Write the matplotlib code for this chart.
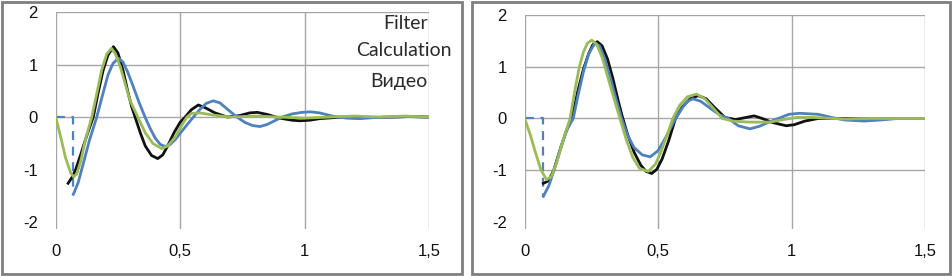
import matplotlib.pyplot as plt
import matplotlib.patches as patches

plt.rcParams['font.family'] = ['Liberation Sans', 'DejaVu Sans']

# left panel
l_green_x = [0, 0.02, 0.04, 0.06, 0.072, 0.085, 0.1, 0.12, 0.145, 0.165, 0.185, 0.205, 0.224, 0.24,
             0.26, 0.28, 0.3, 0.33, 0.36, 0.39, 0.426, 0.45, 0.48, 0.505, 0.527, 0.545, 0.58, 0.63,
             0.7, 0.8, 0.9, 1.0, 1.1, 1.2, 1.3, 1.4, 1.5]
l_green_y = [0, -0.38, -0.78, -1.06, -1.14, -1.08, -0.85, -0.42, 0.0, 0.45, 0.9, 1.2, 1.31, 1.2,
             0.95, 0.62, 0.3, 0.0, -0.3, -0.5, -0.6, -0.55, -0.38, -0.17, 0.0, 0.07, 0.08, 0.04,
             0.0, 0.02, 0.0, -0.02, 0.0, 0.02, 0.0, 0.02, 0.0]

l_black_x = [0.05, 0.065, 0.08, 0.1, 0.125, 0.151, 0.17, 0.19, 0.21, 0.232, 0.25, 0.27, 0.29, 0.305,
             0.319, 0.34, 0.36, 0.385, 0.41, 0.43, 0.45, 0.475, 0.5, 0.52, 0.545, 0.573, 0.6, 0.64,
             0.69, 0.74, 0.78, 0.81, 0.85, 0.9, 0.95, 0.98, 1.02, 1.06, 1.15, 1.25, 1.35, 1.42, 1.5]
l_black_y = [-1.26, -1.15, -1.0, -0.72, -0.35, 0.0, 0.45, 0.88, 1.18, 1.34, 1.22, 0.9, 0.48, 0.2,
             0.0, -0.3, -0.55, -0.73, -0.79, -0.72, -0.55, -0.3, -0.1, 0.0, 0.14, 0.23, 0.18, 0.08,
             0.0, 0.03, 0.08, 0.09, 0.05, -0.02, -0.06, -0.07, -0.06, -0.03, 0.0, -0.01, 0.0, 0.01, 0.0]

l_blue_x = [0.071, 0.09, 0.11, 0.135, 0.165, 0.19, 0.21, 0.23, 0.252, 0.27, 0.29, 0.31, 0.335, 0.359,
            0.38, 0.4, 0.42, 0.44, 0.46, 0.48, 0.51, 0.553, 0.58, 0.605, 0.633, 0.66, 0.69, 0.728,
            0.76, 0.79, 0.821, 0.85, 0.88, 0.909, 0.95, 0.99, 1.023, 1.06, 1.12, 1.17, 1.22, 1.28,
            1.35, 1.42, 1.5]
l_blue_y = [-1.47, -1.25, -0.9, -0.45, 0.0, 0.45, 0.8, 1.02, 1.12, 1.05, 0.85, 0.6, 0.28, 0.0,
            -0.22, -0.4, -0.52, -0.56, -0.52, -0.43, -0.25, 0.0, 0.15, 0.26, 0.31, 0.27, 0.15, 0.0,
            -0.1, -0.16, -0.18, -0.14, -0.07, 0.0, 0.06, 0.09, 0.1, 0.08, 0.01, -0.02, -0.03, -0.01,
            0.0, 0.01, 0.0]
l_blue_start_x = [0, 0.071, 0.071]
l_blue_start_y = [0, 0, -1.47]

# right panel
r_green_x = [0, 0.02, 0.04, 0.06, 0.082, 0.1, 0.12, 0.145, 0.17, 0.19, 0.205, 0.22, 0.235, 0.251,
             0.27, 0.29, 0.31, 0.335, 0.357, 0.38, 0.405, 0.43, 0.463, 0.49, 0.51, 0.535, 0.555,
             0.58, 0.61, 0.644, 0.675, 0.71, 0.74, 0.78, 0.84, 0.92, 0.97, 1.02, 1.08, 1.15, 1.2,
             1.3, 1.4, 1.5]
r_green_y = [0, -0.3, -0.65, -0.98, -1.18, -1.12, -0.85, -0.4, 0.0, 0.6, 1.0, 1.28, 1.45, 1.51,
             1.43, 1.18, 0.82, 0.38, 0.0, -0.4, -0.75, -0.96, -1.02, -0.88, -0.65, -0.3, 0.0,
             0.25, 0.42, 0.47, 0.38, 0.18, 0.0, -0.05, -0.07, -0.07, -0.02, 0.02, 0.02, 0.0, -0.01,
             0.0, 0.0, 0.0]

r_black_x = [0.07, 0.09, 0.11, 0.13, 0.155, 0.176, 0.2, 0.22, 0.24, 0.255, 0.272, 0.29, 0.31, 0.33,
             0.35, 0.365, 0.385, 0.41, 0.435, 0.455, 0.476, 0.495, 0.515, 0.54, 0.565, 0.59, 0.62,
             0.65, 0.68, 0.71, 0.75, 0.79, 0.83, 0.86, 0.89, 0.93, 0.98, 1.01, 1.05, 1.1, 1.2, 1.3,
             1.4, 1.5]
r_black_y = [-1.25, -1.2, -0.98, -0.65, -0.25, 0.0, 0.55, 0.95, 1.25, 1.42, 1.48, 1.4, 1.15, 0.78,
             0.35, 0.05, -0.3, -0.65, -0.9, -1.02, -1.06, -0.98, -0.78, -0.42, 0.0, 0.22, 0.38,
             0.44, 0.38, 0.22, 0.02, -0.02, 0.02, 0.05, 0.0, -0.08, -0.14, -0.12, -0.05, 0.0, 0.0, -0.01,
             0.0, 0.0]

r_blue_x = [0.07, 0.09, 0.11, 0.135, 0.16, 0.182, 0.2, 0.22, 0.24, 0.263, 0.28, 0.3, 0.32, 0.34,
            0.363, 0.385, 0.41, 0.44, 0.47, 0.5, 0.53, 0.56, 0.59, 0.61, 0.63, 0.66, 0.7, 0.73,
            0.763, 0.8, 0.844, 0.88, 0.915, 0.95, 0.99, 1.03, 1.1, 1.15, 1.2, 1.27, 1.33, 1.4, 1.5]
r_blue_y = [-1.5, -1.3, -1.0, -0.55, -0.2, 0.0, 0.45, 0.9, 1.25, 1.45, 1.4, 1.15, 0.8, 0.42,
            0.0, -0.32, -0.56, -0.7, -0.74, -0.62, -0.35, -0.05, 0.2, 0.33, 0.38, 0.33, 0.18, 0.07,
            0.0, -0.14, -0.2, -0.15, -0.07, 0.0, 0.08, 0.1, 0.08, 0.02, -0.03, -0.05, -0.03, 0.0, 0.0]
r_blue_start_x = [0, 0.07, 0.07]
r_blue_start_y = [0, 0, -1.5]

x_ticks = [0, 0.5, 1, 1.5]
x_labels = ['0', '0,5', '1', '1,5']
y_ticks = [-2, -1, 0, 1, 2]
y_labels = ['-2', '-1', '0', '1', '2']
legend_labels = ['Filter', 'Calculation', 'Видео']

GREEN = '#9bbb59'
BLUE = '#4f81bd'
BLACK = '#111111'

fig = plt.figure(figsize=(9.52, 2.76), dpi=100)

# panel frames
for x0, w in [(0.002, 0.483), (0.496, 0.502)]:
    fig.patches.append(patches.Rectangle((x0, 0.006), w, 0.988, transform=fig.transFigure,
                                         fill=False, edgecolor='#7f7f7f', linewidth=2))


def setup(ax, hide_minus1=False):
    ax.set_xlim(0, 1.5)
    ax.set_ylim(-2.13, 2)
    ax.set_xticks(x_ticks)
    ax.set_xticklabels(x_labels)
    ax.set_yticks(y_ticks)
    ax.set_yticklabels(y_labels)
    ax.grid(True, color='#a6a6a6', linewidth=1)
    ygl = ax.get_ygridlines()
    ygl[0].set_visible(False)
    if hide_minus1:
        ygl[1].set_visible(False)
    for s in ax.spines.values():
        s.set_visible(False)
    ax.tick_params(length=0, labelsize=12, colors='#111111')
    ax.tick_params(axis='x', pad=11)
    ax.tick_params(axis='y', pad=13)


# left axes: x 55.7..429 px, y=2 at 12 px, y=-2.13 at 229 px
ax1 = fig.add_axes([55.7 / 952, 1 - 229 / 276, 373.3 / 952, 217 / 276])
setup(ax1, hide_minus1=True)
ax1.plot(l_blue_start_x, l_blue_start_y, color=BLUE, lw=1.6, ls=(0, (4, 3)))
ax1.plot(l_black_x, l_black_y, color=BLACK, lw=2)
ax1.plot(l_blue_x, l_blue_y, color=BLUE, lw=2)
ax1.plot(l_green_x, l_green_y, color=GREEN, lw=2)

# right axes: x 524.7..925 px, y=2 at 14.7 px
ax2 = fig.add_axes([524.7 / 952, 1 - 229 / 276, 400.3 / 952, 214.3 / 276])
setup(ax2)
ax2.plot(r_blue_start_x, r_blue_start_y, color=BLUE, lw=1.6, ls=(0, (4, 3)))
ax2.plot(r_black_x, r_black_y, color=BLACK, lw=2)
ax2.plot(r_blue_x, r_blue_y, color=BLUE, lw=2)
ax2.plot(r_green_x, r_green_y, color=GREEN, lw=2)

# legend text (sample lines hidden in the original)
for lab, xr, yc in zip(legend_labels, [428, 452, 428], [24, 50, 82]):
    fig.text(xr / 952, 1 - yc / 276, lab, ha='right', va='center', fontsize=14,
             family=['Lato', 'DejaVu Sans'], color='#2a2a2a')

fig.savefig('out.png', dpi=100)
